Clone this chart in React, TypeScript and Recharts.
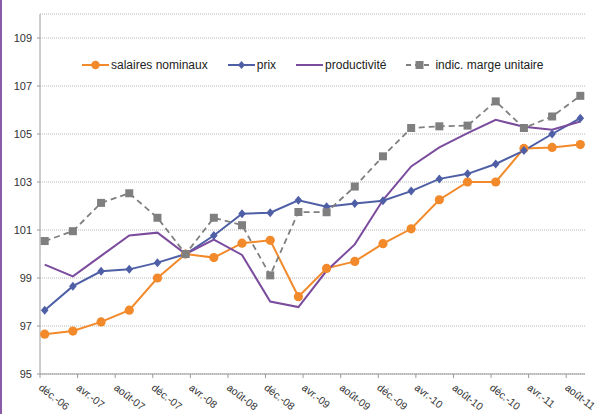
import React from "react";
import {
  LineChart,
  Line,
  XAxis,
  YAxis,
  CartesianGrid,
} from "recharts";

// quarterly observations, base 100 = mars 2008
const periods = [
  "2006-12", "2007-03", "2007-06", "2007-09", "2007-12",
  "2008-03", "2008-06", "2008-09", "2008-12", "2009-03",
  "2009-06", "2009-09", "2009-12", "2010-03", "2010-06",
  "2010-09", "2010-12", "2011-03", "2011-06", "2011-09",
];

const salaires = [
  96.66, 96.79, 97.17, 97.66, 99.0, 100.0, 99.85, 100.45, 100.57, 98.22,
  99.4, 99.69, 100.43, 101.05, 102.26, 103.0, 103.0, 104.4, 104.44, 104.56,
];
const prix = [
  97.66, 98.66, 99.28, 99.36, 99.64, 100.0, 100.77, 101.68, 101.72, 102.24,
  101.97, 102.1, 102.22, 102.62, 103.13, 103.34, 103.75, 104.31, 105.0, 105.66,
];
const productivite = [
  99.56, 99.07, 99.92, 100.77, 100.89, 100.0, 100.6, 99.96, 98.02, 97.79,
  99.3, 100.4, 102.25, 103.65, 104.44, 105.04, 105.59, 105.3, 105.18, 105.52,
];
const marge = [
  100.54, 100.95, 102.13, 102.53, 101.51, 100.0, 101.51, 101.2, 99.11, 101.75,
  101.74, 102.81, 104.07, 105.25, 105.32, 105.35, 106.36, 105.25, 105.73, 106.59,
];

// x axis labels every 4 months starting déc. 2006
const monthLabels = [
  "déc.-06", "avr.-07", "août-07", "déc.-07", "avr.-08", "août-08", "déc.-08",
  "avr.-09", "août-09", "déc.-09", "avr.-10", "août-10", "déc.-10", "avr.-11", "août-11",
];
const yTicks = [95, 97, 99, 101, 103, 105, 107, 109];

const START_YEAR = 2006;
const START_MONTH = 12;
const monthIndex = (p: string) => {
  const [y, m] = p.split("-").map(Number);
  return (y - START_YEAR) * 12 + (m - START_MONTH);
};

const data = periods.map((p, i) => ({
  // points sit in the middle of their month slot
  t: monthIndex(p) + 0.5,
  salaires: salaires[i],
  prix: prix[i],
  productivite: productivite[i],
  marge: marge[i],
}));

const xTicks = monthLabels.map((_, i) => i * 4);
const X_MAX = monthIndex(periods[periods.length - 1]) + 1;

const ORANGE = "#F28A2B";
const BLUE = "#4F5FA6";
const PURPLE = "#7B4C9E";
const GREY = "#7F7F7F";
const FONT = '"Liberation Sans", Arial, Helvetica, sans-serif';

const CircleDot = (props: any) => {
  const { cx, cy } = props;
  if (cx == null || cy == null) return null;
  return <circle cx={cx} cy={cy} r={4.6} fill={ORANGE} />;
};

const DiamondDot = (props: any) => {
  const { cx, cy } = props;
  if (cx == null || cy == null) return null;
  return (
    <path
      d={`M${cx},${cy - 4.5} L${cx + 3.8},${cy} L${cx},${cy + 4.5} L${cx - 3.8},${cy} Z`}
      fill={BLUE}
    />
  );
};

const SquareDot = (props: any) => {
  const { cx, cy } = props;
  if (cx == null || cy == null) return null;
  return <rect x={cx - 4} y={cy - 4} width={8} height={8} fill={GREY} />;
};

const MonthTick = (props: any) => {
  const { x, y, payload } = props;
  const label = monthLabels[Math.round(payload.value / 4)];
  return (
    <g transform={`translate(${x - 2},${y + 9}) rotate(38)`}>
      <text x={0} y={0} textAnchor="start" fontSize={10.5} fontFamily={FONT} fill="#333">
        {label}
      </text>
    </g>
  );
};

const legendItems = [
  { label: "salaires nominaux", color: ORANGE, marker: "circle", dash: undefined },
  { label: "prix", color: BLUE, marker: "diamond", dash: undefined },
  { label: "productivité", color: PURPLE, marker: "none", dash: undefined },
  { label: "indic. marge unitaire", color: GREY, marker: "square", dash: "5 4" },
];

const LegendIcon = ({ color, marker, dash }: { color: string; marker: string; dash?: string }) => (
  <svg width={27} height={10} style={{ display: "block", overflow: "visible" }}>
    <line x1={0} y1={5} x2={27} y2={5} stroke={color} strokeWidth={2} strokeDasharray={dash} />
    {marker === "circle" && <circle cx={13.5} cy={5} r={4.2} fill={color} />}
    {marker === "diamond" && <path d="M13.5,1 L17,5 L13.5,9 L10,5 Z" fill={color} />}
    {marker === "square" && <rect x={9.5} y={1} width={8} height={8} fill={color} />}
  </svg>
);

// legend sits inside the plot, between the 107 and 109 grid lines
const ChartLegend = () => (
  <div
    style={{
      position: "absolute",
      left: 82,
      top: 57,
      display: "flex",
      alignItems: "center",
      fontFamily: FONT,
      fontSize: 12,
      lineHeight: "16px",
      color: "#222",
    }}
  >
    {legendItems.map((it) => (
      <div key={it.label} style={{ display: "flex", alignItems: "center", marginRight: 20 }}>
        <LegendIcon color={it.color} marker={it.marker} dash={it.dash} />
        <span style={{ marginLeft: 2 }}>{it.label}</span>
      </div>
    ))}
  </div>
);

export default function App() {
  return (
    <div style={{ position: "relative", width: 600, height: 414, background: "#fff", overflow: "hidden" }}>
      <style>{"body{margin:0}"}</style>
      <div style={{ position: "absolute", left: 0, top: 0, width: 2, height: 414, background: "#8A5BA6" }} />
      <LineChart
        width={600}
        height={414}
        data={data}
        margin={{ top: 14, right: 15, bottom: 0, left: 0 }}
      >
        <CartesianGrid vertical={false} stroke="#b5b5b5" strokeDasharray="1 1" />
        <XAxis
          dataKey="t"
          type="number"
          domain={[0, X_MAX]}
          ticks={xTicks}
          interval={0}
          height={40}
          stroke="#9a9a9a"
          tickSize={4}
          tickMargin={2}
          tick={<MonthTick />}
        />
        <YAxis
          type="number"
          domain={[95, 110]}
          ticks={yTicks}
          interval={0}
          width={40}
          stroke="#9a9a9a"
          tickSize={3}
          tickMargin={5}
          tick={{ fontSize: 11, fontFamily: FONT, fill: "#333" }}
        />
        <Line dataKey="salaires" stroke={ORANGE} strokeWidth={2} dot={<CircleDot />} isAnimationActive={false} />
        <Line dataKey="prix" stroke={BLUE} strokeWidth={2} dot={<DiamondDot />} isAnimationActive={false} />
        <Line dataKey="productivite" stroke={PURPLE} strokeWidth={2} dot={false} isAnimationActive={false} />
        <Line
          dataKey="marge"
          stroke={GREY}
          strokeWidth={1.8}
          strokeDasharray="6 4"
          dot={<SquareDot />}
          isAnimationActive={false}
        />
      </LineChart>
      <ChartLegend />
    </div>
  );
}
